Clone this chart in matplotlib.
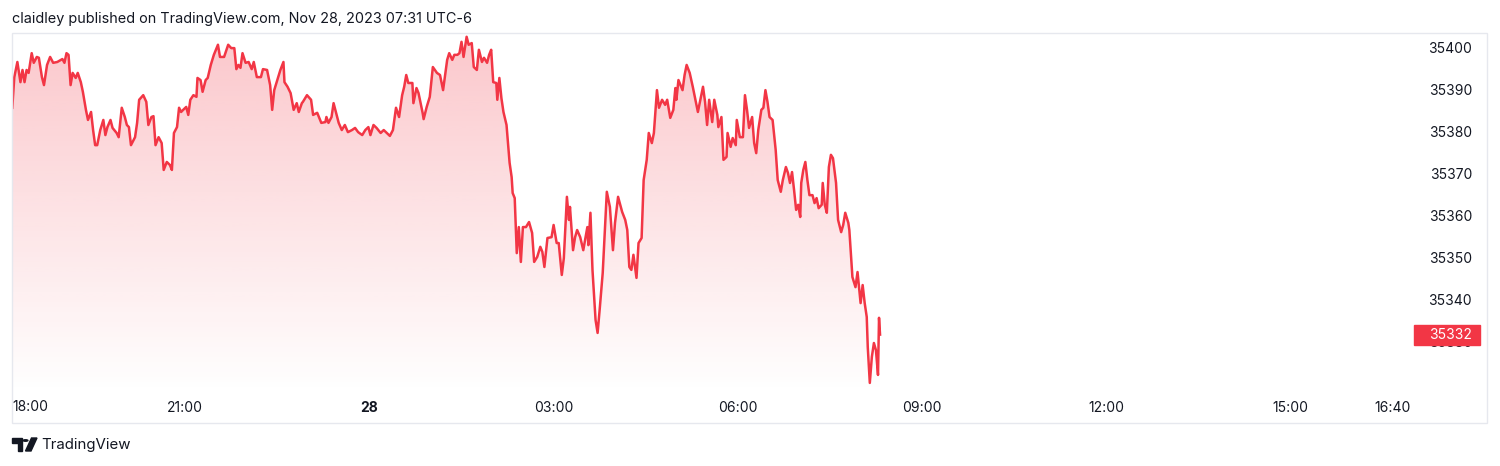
import numpy as np
import matplotlib.pyplot as plt
from matplotlib.colors import LinearSegmentedColormap
from matplotlib.patches import Rectangle, Polygon, Circle
from matplotlib.transforms import blended_transform_factory

plt.rcParams['font.family'] = ['Inter', 'DejaVu Sans']

# minutes after 18:00 (Nov 27) and last traded price
minutes = [11, 13, 16, 19, 21, 23, 25, 27, 30, 32, 35, 37, 40, 42, 45, 48, 51, 55, 60, 62,
           64, 66, 68, 70, 73, 75, 78, 80, 83, 85, 88, 90, 92, 94, 97, 100, 102, 104, 107, 109,
           113, 115, 118, 121, 123, 125, 127, 131, 133, 135, 139, 142, 144, 147, 149, 151, 154, 157, 159, 162,
           165, 167, 169, 172, 174, 176, 178, 181, 183, 185, 188, 191, 192, 195, 197, 200, 202, 205, 208, 212,
           214, 218, 222, 225, 228, 230, 232, 234, 236, 239, 242, 245, 247, 250, 254, 256, 260, 263, 265, 267,
           270, 273, 276, 277, 280, 283, 286, 289, 291, 294, 295, 299, 303, 305, 309, 313, 317, 318, 320, 323,
           325, 328, 330, 333, 336, 339, 343, 346, 349, 353, 356, 359, 361, 364, 367, 371, 374, 377, 380, 383,
           386, 389, 392, 394, 396, 398, 402, 403, 406, 408, 412, 413, 416, 419, 422, 426, 429, 432, 436, 438,
           441, 443, 446, 448, 450, 452, 455, 457, 460, 462, 465, 467, 470, 472, 475, 477, 479, 481, 484, 485,
           487, 489, 491, 494, 495, 497, 499, 500, 502, 504, 506, 508, 510, 513, 516, 519, 521, 524, 527, 529,
           531, 534, 538, 540, 543, 545, 548, 550, 553, 555, 556, 559, 561, 563, 566, 569, 573, 574, 576, 578,
           581, 583, 585, 588, 590, 592, 595, 598, 600, 603, 607, 610, 612, 614, 616, 618, 621, 623, 626, 628,
           631, 633, 636, 638, 641, 643, 646, 649, 651, 654, 657, 659, 660, 662, 666, 668, 670, 673, 676, 678,
           681, 684, 686, 688, 690, 692, 695, 697, 700, 701, 704, 706, 709, 710, 713, 715, 718, 719, 722, 725,
           727, 729, 731, 734, 736, 738, 740, 743, 745, 747, 749, 751, 754, 757, 759, 762, 764, 767, 769, 771,
           773, 775, 777, 779, 781, 782, 784, 786, 788, 790, 793, 795, 797, 799, 802, 803, 805, 807, 809, 811,
           813, 816, 818, 821, 823, 825, 828, 829, 832, 835, 837, 840, 842, 844, 846, 847, 849, 851, 853, 855,
           857, 858, 859]

prices = [35386.0, 35393.3, 35396.9, 35392.1, 35395.0, 35392.1, 35395.0, 35394.3, 35399.0, 35396.7,
          35398.1, 35397.9, 35393.3, 35391.4, 35396.2, 35398.1, 35396.7, 35396.9, 35397.6, 35396.7,
          35399.0, 35398.6, 35391.4, 35394.3, 35393.1, 35394.3, 35392.1, 35389.8, 35385.5, 35383.1,
          35385.0, 35380.7, 35377.1, 35377.1, 35380.7, 35383.1, 35379.5, 35381.4, 35383.1, 35381.2,
          35380.0, 35379.0, 35386.0, 35383.8, 35381.9, 35381.4, 35377.1, 35379.0, 35382.4, 35387.9,
          35389.0, 35387.4, 35381.9, 35383.8, 35384.0, 35377.1, 35379.0, 35377.6, 35371.2, 35373.1,
          35372.4, 35371.2, 35380.0, 35381.4, 35386.0, 35385.0, 35385.5, 35386.2, 35384.3, 35387.9,
          35389.0, 35388.6, 35393.1, 35392.6, 35389.8, 35392.6, 35393.1, 35396.2, 35398.6, 35401.0,
          35398.1, 35398.1, 35401.0, 35400.2, 35400.2, 35395.2, 35396.2, 35395.5, 35399.0, 35396.7,
          35396.9, 35395.2, 35396.9, 35393.3, 35393.3, 35395.2, 35395.0, 35391.4, 35385.5, 35390.2,
          35392.6, 35395.0, 35396.9, 35392.1, 35391.0, 35389.5, 35385.5, 35387.1, 35385.0, 35387.1,
          35387.4, 35389.0, 35387.9, 35384.3, 35384.8, 35382.4, 35382.6, 35383.8, 35382.4, 35383.8,
          35387.1, 35384.3, 35382.4, 35380.7, 35381.9, 35380.2, 35380.7, 35381.2, 35380.2, 35379.5,
          35380.7, 35381.4, 35379.5, 35381.9, 35381.2, 35380.0, 35380.7, 35380.0, 35379.3, 35380.7,
          35386.0, 35383.8, 35389.0, 35391.0, 35393.8, 35391.9, 35391.9, 35387.1, 35390.7, 35389.5,
          35384.8, 35383.3, 35386.2, 35388.6, 35395.7, 35394.3, 35393.8, 35390.2, 35397.4, 35399.0,
          35397.4, 35398.6, 35398.6, 35399.0, 35401.7, 35398.1, 35402.9, 35401.0, 35401.4, 35395.7,
          35395.0, 35399.8, 35396.9, 35397.9, 35396.7, 35398.6, 35399.8, 35392.1, 35391.9, 35387.9,
          35393.1, 35388.3, 35385.0, 35381.9, 35379.0, 35372.9, 35369.5, 35365.7, 35364.5, 35351.4,
          35357.6, 35349.3, 35357.6, 35357.6, 35358.8, 35356.2, 35349.3, 35350.5, 35352.9, 35351.7,
          35348.1, 35355.0, 35355.2, 35358.1, 35353.8, 35353.8, 35346.2, 35350.2, 35364.8, 35359.3,
          35362.4, 35352.1, 35355.2, 35356.9, 35355.2, 35352.1, 35357.6, 35353.3, 35361.0, 35347.4,
          35335.5, 35332.4, 35337.9, 35346.7, 35356.2, 35366.0, 35362.4, 35352.1, 35358.6, 35364.8,
          35361.2, 35359.3, 35356.9, 35348.1, 35347.4, 35351.0, 35345.5, 35353.8, 35355.0, 35368.8,
          35373.6, 35380.0, 35377.6, 35380.0, 35390.2, 35386.0, 35387.9, 35386.7, 35387.9, 35383.6,
          35385.5, 35390.7, 35387.9, 35392.6, 35390.2, 35393.8, 35396.2, 35394.3, 35391.0, 35388.6,
          35385.0, 35388.6, 35391.0, 35387.4, 35381.9, 35387.9, 35382.6, 35387.9, 35384.3, 35381.4,
          35383.8, 35373.6, 35374.3, 35380.0, 35376.7, 35378.8, 35377.1, 35383.1, 35379.0, 35379.0,
          35389.0, 35385.5, 35381.2, 35383.8, 35377.6, 35375.2, 35380.7, 35385.5, 35386.0, 35390.2,
          35387.4, 35383.8, 35383.1, 35376.0, 35368.8, 35366.0, 35368.8, 35371.9, 35370.5, 35368.1,
          35370.7, 35366.4, 35361.7, 35362.9, 35360.0, 35368.1, 35371.2, 35373.1, 35368.8, 35365.2,
          35365.2, 35363.3, 35364.5, 35362.1, 35362.9, 35368.1, 35362.9, 35361.0, 35371.9, 35374.8,
          35374.0, 35368.1, 35359.3, 35356.4, 35358.1, 35361.0, 35358.6, 35356.9, 35345.7, 35343.3,
          35346.9, 35339.5, 35343.8, 35339.5, 35336.2, 35329.0, 35320.5, 35326.7, 35330.0, 35328.3,
          35322.4, 35336.0, 35332.0]

price_ticks = [35330, 35340, 35350, 35360, 35370, 35380, 35390, 35400]
time_ticks = [180, 360, 540, 720, 900, 1080, 1260, 1360]
time_labels = ["21:00", "28", "03:00", "06:00", "09:00", "12:00", "15:00", "16:40"]
first_label = "18:00"
last_price = 35332

RED = "#f23645"
TXT = "#131722"
W, H = 1500, 466


def fx(px):
    return px / W


def fy(py):
    return 1 - py / H


fig = plt.figure(figsize=(15, 4.66), dpi=100)

# main pane
ax = fig.add_axes([fx(12), fy(393), fx(1487) - fx(12), fy(33) - fy(393)])
px_per_min = 61.4 / 60
xlim = (11 / px_per_min, 1486 / px_per_min)
ylim = (35318.1, 35403.8)
for s in ax.spines.values():
    s.set_visible(False)
ax.set_yticks([])

# gradient area under the line
grad = LinearSegmentedColormap.from_list(
    "area", [(242 / 255, 54 / 255, 69 / 255, 0.0), (242 / 255, 54 / 255, 69 / 255, 0.28)])
img = ax.imshow(np.linspace(0, 1, 256).reshape(-1, 1), cmap=grad, aspect="auto",
                extent=[minutes[0], minutes[-1], ylim[0], ylim[1]], origin="lower", zorder=1)
poly = ax.fill_between(minutes, prices, ylim[0], color="none", lw=0)
img.set_clip_path(poly.get_paths()[0], transform=ax.transData)
ax.set_xlim(*xlim)
ax.set_ylim(*ylim)

ax.plot(minutes, prices, color=RED, lw=1.8, zorder=3, solid_joinstyle="round")

# price scale on the right
ytr = blended_transform_factory(ax.transAxes, ax.transData)
x_lab = (1472 - 12) / 1475
for v in price_ticks:
    ax.text(x_lab, v, str(v), transform=ytr, ha="right", va="center",
            fontsize=10, color=TXT, zorder=4)
bh = 20 / 4.2
ax.add_patch(Rectangle(((1414 - 12) / 1475, last_price - bh / 2), 66 / 1475, bh,
                       transform=ytr, color=RED, zorder=5, clip_on=False))
ax.text(x_lab, last_price, str(last_price), transform=ytr, ha="right", va="center",
        fontsize=10, color="white", zorder=6)

# time scale
ax.set_xticks(time_ticks)
ax.set_xticklabels(time_labels, fontsize=10, color=TXT)
ax.tick_params(axis="x", length=0, pad=6)
ax.get_xticklabels()[1].set_fontweight("bold")
fig.text(fx(12.5), fy(407), first_label, ha="left", va="center", fontsize=10, color=TXT)

# outer frame
fig.add_artist(Rectangle((fx(12), fy(423)), fx(1487) - fx(12), fy(33) - fy(423),
                         transform=fig.transFigure, fill=False, ec="#e6e8ee", lw=1))

# header and footer
fig.text(fx(12), fy(19), "claidley published on TradingView.com, Nov 28, 2023 07:31 UTC-6",
         ha="left", va="center", fontsize=10.4, color=TXT)
fig.text(fx(41), fy(445), "TradingView", ha="left", va="center", fontsize=10.8, color=TXT)

# TradingView logo mark
tr = fig.transFigure
fig.add_artist(Polygon([(fx(12), fy(438)), (fx(22), fy(438)), (fx(22), fy(451)),
                        (fx(17.5), fy(451)), (fx(17.5), fy(442.5)), (fx(12), fy(442.5))],
                       closed=True, transform=tr, color=TXT))
fig.add_artist(Circle((fx(25.5), fy(440.5)), 2.4 / W, transform=tr, color=TXT))
fig.add_artist(Polygon([(fx(31.5), fy(438)), (fx(37), fy(438)), (fx(31), fy(451)),
                        (fx(25.5), fy(451))], closed=True, transform=tr, color=TXT))

fig.savefig("out.png", dpi=100)
